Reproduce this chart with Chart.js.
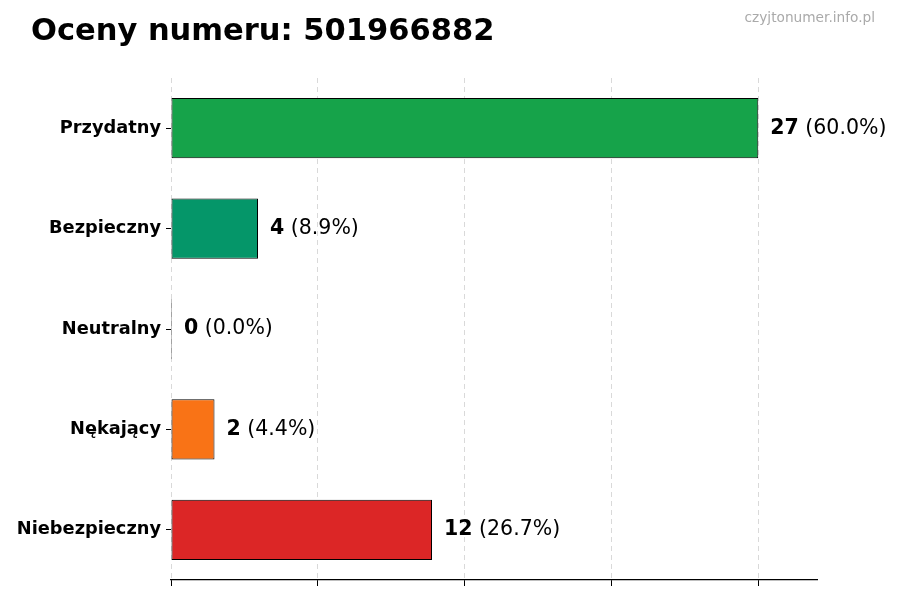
<!DOCTYPE html>
<html>
<head>
<meta charset="utf-8">
<script src="https://cdn.jsdelivr.net/npm/chart.js@4/dist/chart.umd.min.js"></script>
<style>
  html, body { margin: 0; padding: 0; background: #fff; }
  #wrap { width: 900px; height: 600px; }
</style>
</head>
<body>
<div id="wrap"><canvas id="ratings"></canvas></div>
<script>
const categories = ['Przydatny', 'Bezpieczny', 'Neutralny', 'Nękający', 'Niebezpieczny'];
const counts = [27, 4, 0, 2, 12];
const percents = ['60.0%', '8.9%', '0.0%', '4.4%', '26.7%'];
const barColors = ['#16a34a', '#059669', '#6b7280', '#f97316', '#dc2626'];
const xTicks = [0, 6.75, 13.5, 20.25, 27];
const xMax = 29.7;

const FONT = '"DejaVu Sans", sans-serif';

// title, watermark and value labels
const textPlugin = {
  id: 'texts',
  afterDraw(chart) {
    const ctx = chart.ctx;
    ctx.save();
    ctx.fillStyle = '#000';
    ctx.textBaseline = 'alphabetic';
    ctx.textAlign = 'left';
    ctx.font = 'bold 30.5px ' + FONT;
    ctx.fillText('Oceny numeru: 501966882', 31, 40);

    ctx.fillStyle = '#aaaaaa';
    ctx.font = '13.7px ' + FONT;
    ctx.textAlign = 'right';
    ctx.fillText('czyjtonumer.info.pl', 875, 22);

    const meta = chart.getDatasetMeta(0);
    ctx.textAlign = 'left';
    ctx.textBaseline = 'middle';
    ctx.fillStyle = '#000';
    meta.data.forEach(function (bar, i) {
      let x = bar.x + 12;
      ctx.font = 'bold 20.5px ' + FONT;
      const num = String(counts[i]);
      ctx.fillText(num, x, bar.y);
      x += ctx.measureText(num).width;
      ctx.font = '20.5px ' + FONT;
      ctx.fillText(' (' + percents[i] + ')', x, bar.y);
    });
    ctx.restore();
  }
};

const cfg = {
  type: 'bar',
  data: {
    labels: categories,
    datasets: [{
      data: counts,
      backgroundColor: barColors,
      borderColor: '#000',
      borderWidth: 1,
      borderSkipped: false,
      minBarLength: 1,
      barPercentage: 0.6,
      categoryPercentage: 1
    }]
  },
  options: {
    indexAxis: 'y',
    responsive: true,
    maintainAspectRatio: false,
    animation: false,
    layout: { padding: { left: 0, top: 78, right: 83, bottom: 0 } },
    plugins: {
      legend: { display: false },
      tooltip: { enabled: false }
    },
    scales: {
      x: {
        min: 0,
        max: xMax,
        z: 1,
        afterBuildTicks(scale) {
          scale.ticks = xTicks.map(v => ({ value: v }));
        },
        afterFit(scale) { scale.height = 20; },
        ticks: { display: true, callback: () => '', padding: 0 },
        grid: {
          color: 'rgba(170,170,170,0.45)',
          lineWidth: 1,
          drawTicks: true,
          tickLength: 6,
          tickColor: '#000',
          tickWidth: 1
        },
        border: { display: true, color: '#000', width: 1.2, dash: [5, 4] }
      },
      y: {
        afterFit(scale) { scale.width = 171; },
        ticks: {
          color: '#000',
          padding: 5,
          font: { family: FONT, size: 17.8, weight: 'bold' }
        },
        grid: {
          offset: false,
          drawOnChartArea: false,
          drawTicks: true,
          tickLength: 5,
          tickColor: '#000'
        },
        border: { display: false }
      }
    }
  },
  plugins: [textPlugin]
};

new Chart(document.getElementById('ratings'), cfg);
</script>
</body>
</html>
